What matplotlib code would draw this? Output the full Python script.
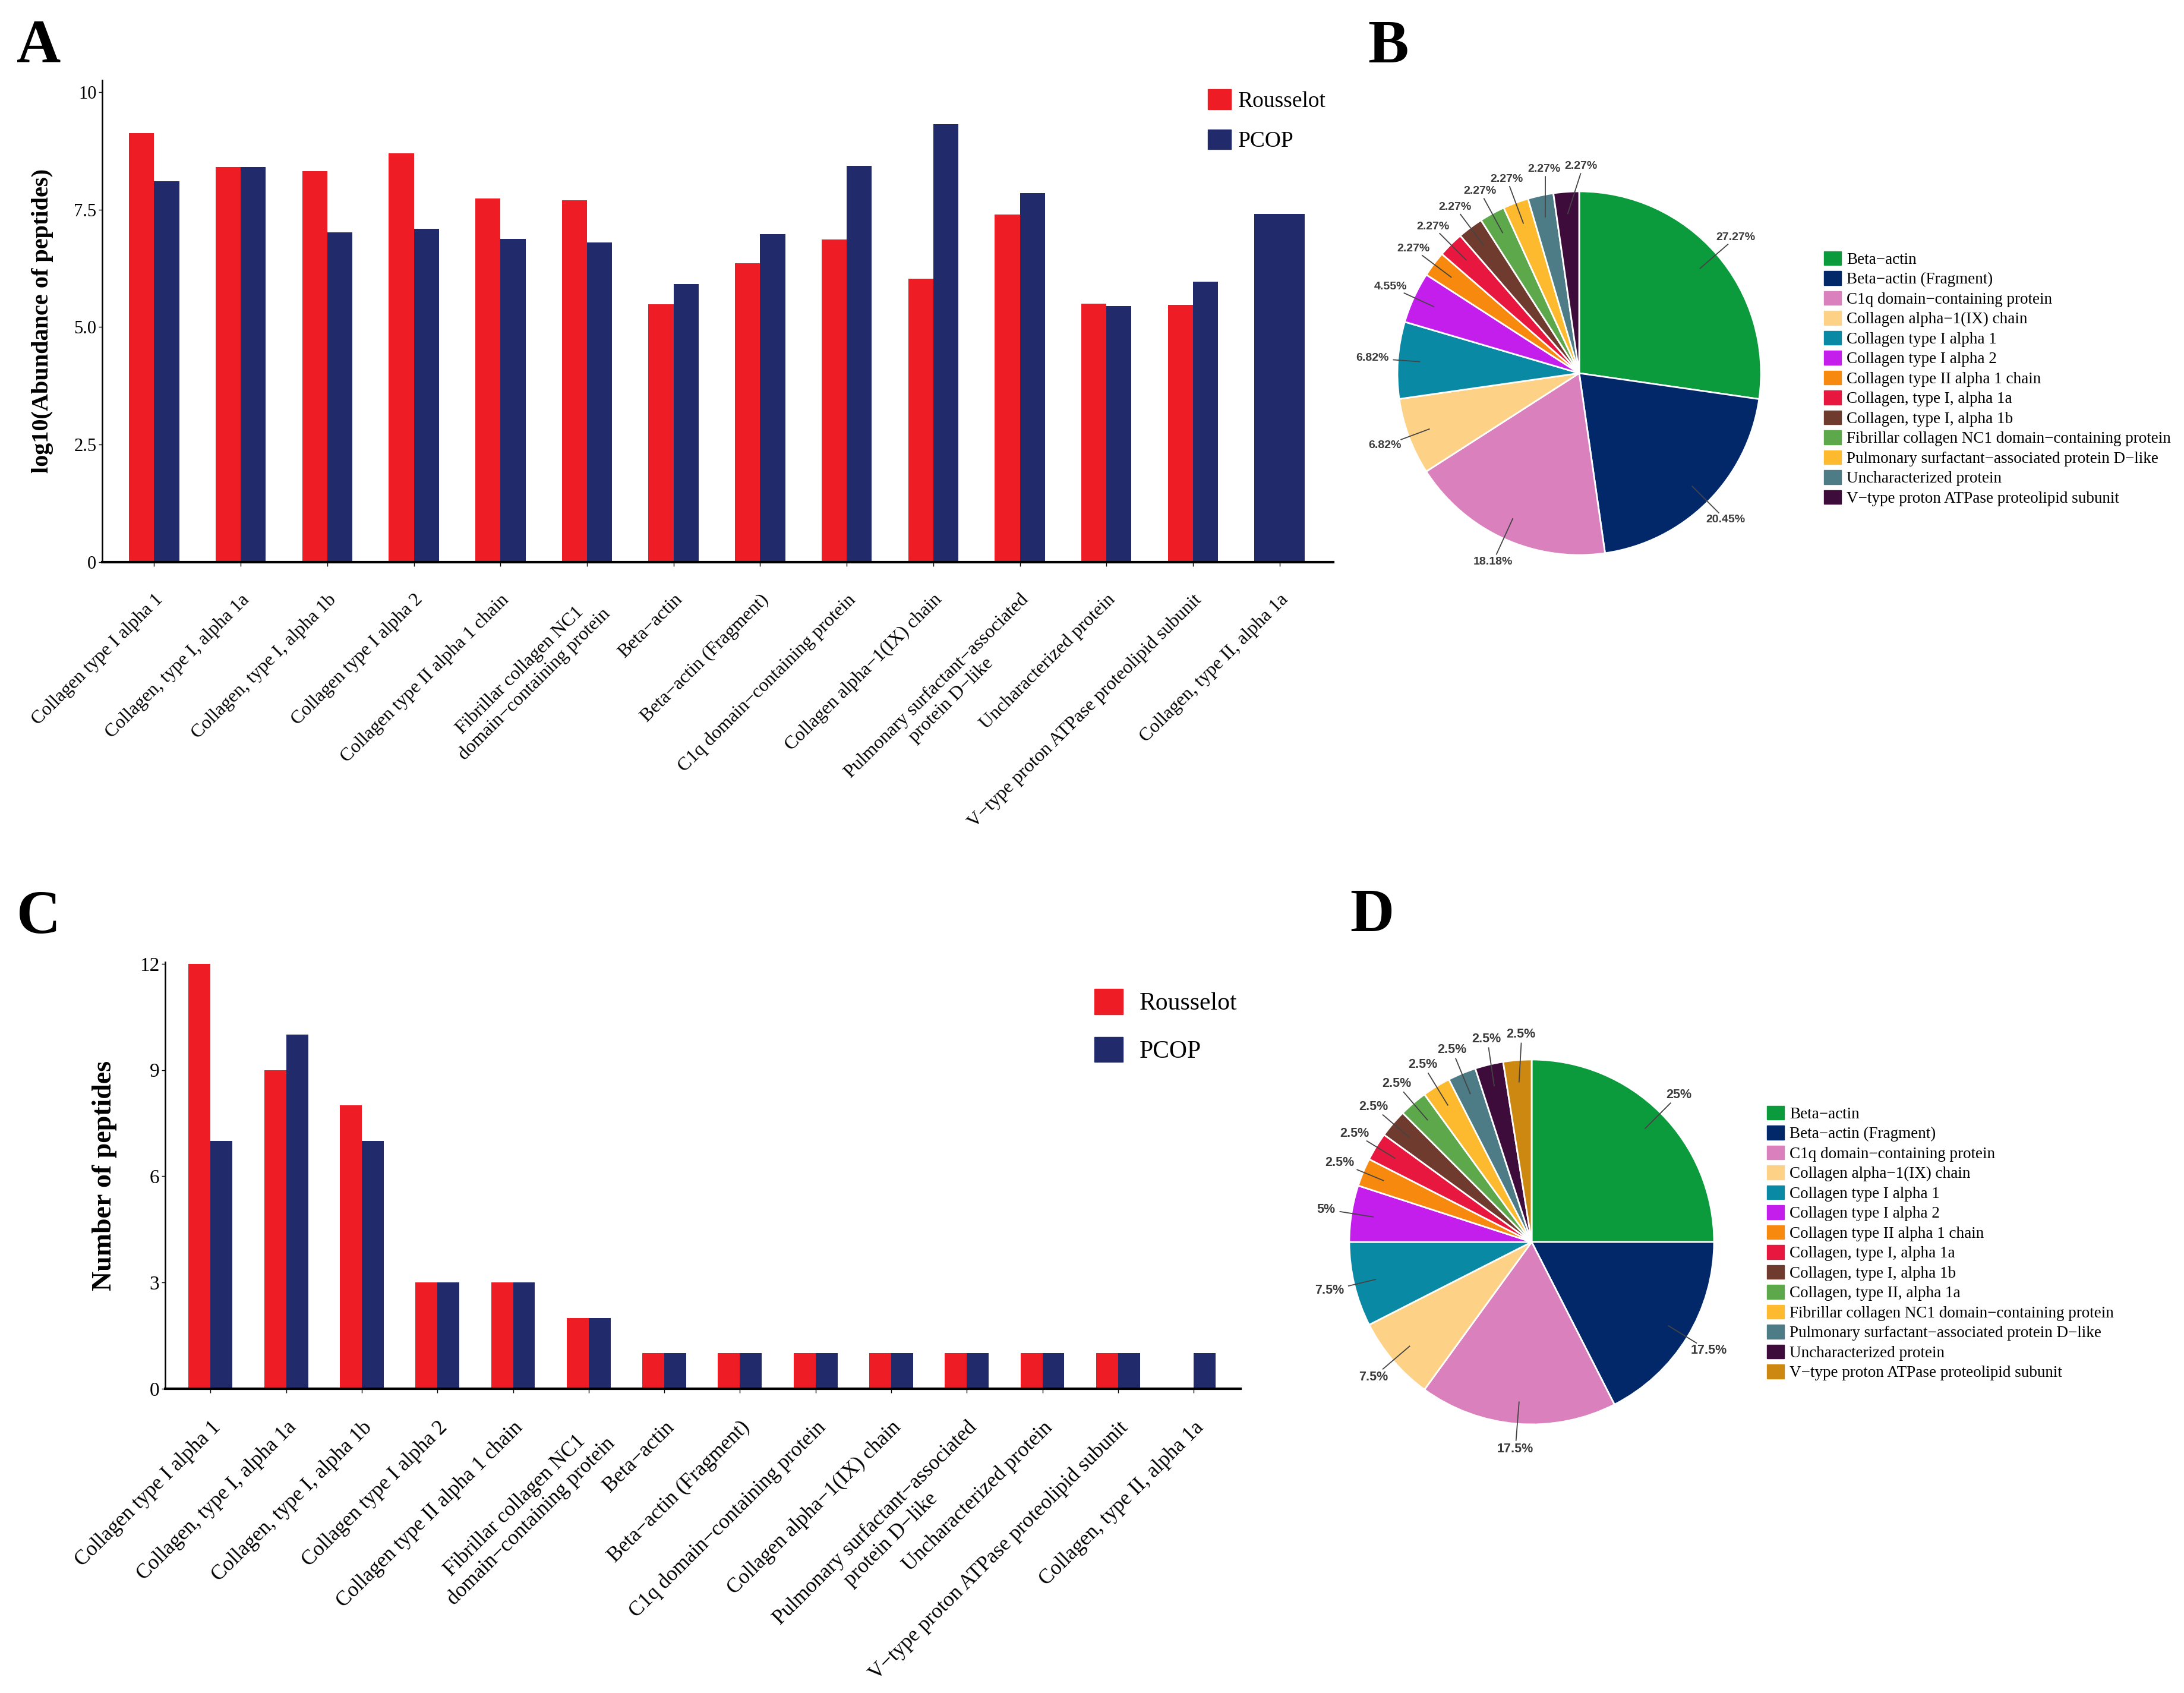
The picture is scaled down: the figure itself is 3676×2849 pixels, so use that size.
import numpy as np
import matplotlib
matplotlib.use("Agg")
import matplotlib.pyplot as plt
from matplotlib.patches import Patch

plt.rcParams['font.family'] = ['Liberation Serif', 'DejaVu Serif']

W, H = 3676, 2849

# ---------------- data ----------------
proteins = ["Collagen type I alpha 1", "Collagen, type I, alpha 1a", "Collagen, type I, alpha 1b",
            "Collagen type I alpha 2", "Collagen type II alpha 1 chain",
            "Fibrillar collagen NC1\ndomain\u2212containing protein", "Beta\u2212actin",
            "Beta\u2212actin (Fragment)", "C1q domain\u2212containing protein",
            "Collagen alpha\u22121(IX) chain", "Pulmonary surfactant\u2212associated\nprotein D\u2212like",
            "Uncharacterized protein", "V\u2212type proton ATPase proteolipid subunit",
            "Collagen, type II, alpha 1a"]

rousselot_abund = [9.13, 8.41, 8.31, 8.69, 7.73, 7.70, 5.48, 6.36, 6.86, 6.03, 7.39, 5.50, 5.47, np.nan]
pcop_abund = [8.10, 8.41, 7.01, 7.09, 6.87, 6.80, 5.92, 6.98, 8.43, 9.32, 7.85, 5.45, 5.97, 7.41]

rousselot_count = [12, 9, 8, 3, 3, 2, 1, 1, 1, 1, 1, 1, 1, 0]
pcop_count = [7, 10, 7, 3, 3, 2, 1, 1, 1, 1, 1, 1, 1, 1]

pie_b_labels = ["Beta\u2212actin", "Beta\u2212actin (Fragment)", "C1q domain\u2212containing protein",
                "Collagen alpha\u22121(IX) chain", "Collagen type I alpha 1", "Collagen type I alpha 2",
                "Collagen type II alpha 1 chain", "Collagen, type I, alpha 1a", "Collagen, type I, alpha 1b",
                "Fibrillar collagen NC1 domain\u2212containing protein",
                "Pulmonary surfactant\u2212associated protein D\u2212like", "Uncharacterized protein",
                "V\u2212type proton ATPase proteolipid subunit"]
pie_b_pct = [27.27, 20.45, 18.18, 6.82, 6.82, 4.55, 2.27, 2.27, 2.27, 2.27, 2.27, 2.27, 2.27]
pie_b_colors = ["#0B9A3C", "#03286A", "#DA80BC", "#FDD287", "#0A89A5", "#C41EEC", "#F6890E",
                "#E8173F", "#6F3B2E", "#5EA84C", "#FDBA2F", "#4E7C86", "#3D0C3B"]

pie_d_labels = ["Beta\u2212actin", "Beta\u2212actin (Fragment)", "C1q domain\u2212containing protein",
                "Collagen alpha\u22121(IX) chain", "Collagen type I alpha 1", "Collagen type I alpha 2",
                "Collagen type II alpha 1 chain", "Collagen, type I, alpha 1a", "Collagen, type I, alpha 1b",
                "Collagen, type II, alpha 1a", "Fibrillar collagen NC1 domain\u2212containing protein",
                "Pulmonary surfactant\u2212associated protein D\u2212like", "Uncharacterized protein",
                "V\u2212type proton ATPase proteolipid subunit"]
pie_d_pct = [25, 17.5, 17.5, 7.5, 7.5, 5, 2.5, 2.5, 2.5, 2.5, 2.5, 2.5, 2.5, 2.5]
pie_d_colors = ["#0B9A3C", "#03286A", "#DA80BC", "#FDD287", "#0A89A5", "#C41EEC", "#F6890E",
                "#E8173F", "#6F3B2E", "#5EA84C", "#FDBA2F", "#4E7C86", "#3D0C3B", "#CC8810"]

RED = "#EE1C25"
NAVY = "#212B6C"


def px_rect(left, top, right, bottom):
    return [left / W, 1 - bottom / H, (right - left) / W, (bottom - top) / H]


fig = plt.figure(figsize=(W / 100, H / 100), dpi=100)


def bar_panel(rect, red, blue, ylim, yticks, yticklabels, ylabel, ylab_size, ylab_x,
              tick_size, xtick_size, xpad):
    ax = fig.add_axes(rect)
    w = 0.29
    x = np.arange(len(proteins))
    for i in x:
        if np.isnan(red[i]):
            ax.bar(i, blue[i], width=2 * w, color=NAVY)
        else:
            ax.bar(i - w / 2, red[i], width=w, color=RED)
            ax.bar(i + w / 2, blue[i], width=w, color=NAVY)
    ax.set_xlim(-0.6, len(proteins) - 1 + 0.62)
    ax.set_ylim(*ylim)
    ax.set_yticks(yticks)
    ax.set_yticklabels(yticklabels, fontsize=tick_size)
    ax.set_xticks(x)
    ax.set_xticklabels(proteins, fontsize=xtick_size, multialignment='center')
    plt.setp(ax.get_xticklabels(), rotation=45, ha='right', va='top', rotation_mode='anchor')
    ax.tick_params(axis='x', length=5, width=1, pad=xpad)
    ax.tick_params(axis='y', length=4, width=1, pad=3)
    ax.spines['top'].set_visible(False)
    ax.spines['right'].set_visible(False)
    ax.spines['left'].set_linewidth(1.8)
    ax.spines['bottom'].set_linewidth(3)
    ax.set_ylabel(ylabel, fontsize=ylab_size, fontweight='bold')
    ax.yaxis.set_label_coords(ylab_x, 0.5)
    return ax


axA = bar_panel(px_rect(172, 135, 2244, 946), rousselot_abund, pcop_abund, (0, 10.25),
                [0, 2.5, 5.0, 7.5, 10], ["0", "2.5", "5.0", "7.5", "10"],
                "log10(Abundance of peptides)", 29, -0.0396, 22, 23, 30)
axC = bar_panel(px_rect(278, 1619, 2088, 2337), rousselot_count, pcop_count, (0, 12.05),
                [0, 3, 6, 9, 12], ["0", "3", "6", "9", "12"],
                "Number of peptides", 33, -0.0448, 24, 25.5, 30)

bar_handles = [Patch(color=RED, label="Rousselot"), Patch(color=NAVY, label="PCOP")]
fig.legend(handles=bar_handles, loc='upper left', bbox_to_anchor=(2033 / W, 1 - 150 / H),
           frameon=False, fontsize=27, handlelength=1.03, handleheight=1.0,
           labelspacing=0.8, handletextpad=0.33, borderpad=0, borderaxespad=0)
fig.legend(handles=bar_handles, loc='upper left', bbox_to_anchor=(1842 / W, 1 - 1664 / H),
           frameon=False, fontsize=30, handlelength=1.15, handleheight=1.2,
           labelspacing=0.87, handletextpad=0.67, borderpad=0, borderaxespad=0)


def pie_panel(cx, cy, r, values, colors, pct_size):
    half = 1.4 * r
    ax = fig.add_axes(px_rect(cx - half, cy - half, cx + half, cy + half))
    ax.set_facecolor('none')
    wedges, _ = ax.pie(values, colors=colors, startangle=90, counterclock=False,
                       wedgeprops=dict(edgecolor='white', linewidth=2), radius=1)
    ax.set_xlim(-1.4, 1.4)
    ax.set_ylim(-1.4, 1.4)
    ax.set_aspect('equal')
    ax.axis('off')

    renderer = fig.canvas.get_renderer()
    ppu = ax.transData.transform((1, 0))[0] - ax.transData.transform((0, 0))[0]
    boxes = []
    r_text = 1.14
    for wdg, v in zip(wedges, values):
        mid = np.deg2rad((wdg.theta1 + wdg.theta2) / 2)
        t = ax.text(0, 0, f"{v:g}%", ha='center', va='center', fontsize=pct_size,
                    family=['Liberation Sans', 'DejaVu Sans'], fontweight='bold', color='#3a3a3a')
        bb = t.get_window_extent(renderer)
        tw, th = bb.width / ppu + 0.02, bb.height / ppu
        ang = mid
        for _ in range(80):
            x, y = r_text * np.cos(ang), r_text * np.sin(ang)
            if all(abs(x - bx) > (tw + bw) / 2 or abs(y - by) > (th + bh) / 2
                   for bx, by, bw, bh in boxes):
                break
            ang -= np.deg2rad(0.5)
        t.set_position((x, y))
        boxes.append((x, y, tw, th))
        d = np.array([np.cos(ang), np.sin(ang)])
        edge = min(tw / 2 / max(abs(d[0]), 1e-6), th / 2 / max(abs(d[1]), 1e-6))
        end = np.array([x, y]) - d * (edge + 0.015)
        start = 0.88 * np.array([np.cos(mid), np.sin(mid)])
        ax.plot([start[0], end[0]], [start[1], end[1]], color='#444444', lw=1.3)
    return ax


axB = pie_panel(2658, 628, 306, pie_b_pct, pie_b_colors, 14)
axD = pie_panel(2578, 2090, 307, pie_d_pct, pie_d_colors, 15.5)

fig.legend(handles=[Patch(color=c, label=l) for c, l in zip(pie_b_colors, pie_b_labels)],
           loc='upper left', bbox_to_anchor=(3070 / W, 1 - 423 / H), frameon=False,
           fontsize=19.5, handlelength=1.07, handleheight=0.95, labelspacing=0.24,
           handletextpad=0.33, borderpad=0, borderaxespad=0)
fig.legend(handles=[Patch(color=c, label=l) for c, l in zip(pie_d_colors, pie_d_labels)],
           loc='upper left', bbox_to_anchor=(2974 / W, 1 - 1861 / H), frameon=False,
           fontsize=19.5, handlelength=1.07, handleheight=0.95, labelspacing=0.24,
           handletextpad=0.33, borderpad=0, borderaxespad=0)

for letter, lx, ly in [("A", 28, 105), ("B", 2302, 105), ("C", 28, 1570), ("D", 2272, 1567)]:
    fig.text(lx / W, 1 - ly / H, letter, fontsize=74, fontweight='bold', ha='left', va='baseline')

fig.savefig("out.png", dpi=100, facecolor='white')
